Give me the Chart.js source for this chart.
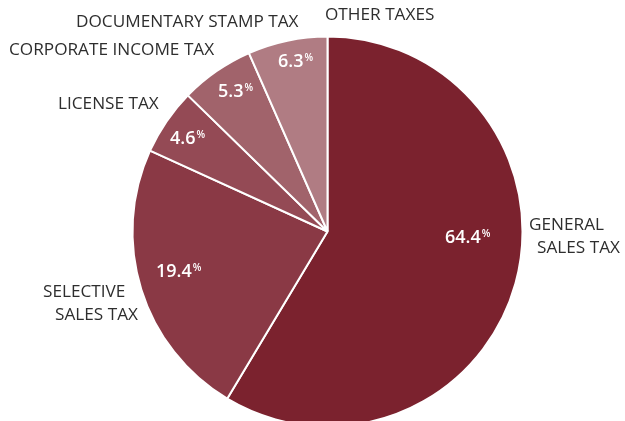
<!DOCTYPE html>
<html>
<head>
<meta charset="utf-8">
<script src="https://cdn.jsdelivr.net/npm/chart.js@4"></script>
<style>
  html, body { margin: 0; padding: 0; background: #fff; }
  #taxPie { display: block; }
</style>
</head>
<body>
<canvas id="taxPie" width="625" height="421"></canvas>
<script>
const categories = ['GENERAL SALES TAX', 'SELECTIVE SALES TAX', 'LICENSE TAX',
  'CORPORATE INCOME TAX', 'DOCUMENTARY STAMP TAX', 'OTHER TAXES'];
const sliceSizes = [58.6, 23.2, 5.5, 6.1, 0, 6.6];
const printedPct = [64.4, 19.4, 4.6, 5.3, null, 6.3];
const sliceColors = ['#7b222e', '#8a3945', '#944a55', '#a1636b', '#a1636b', '#b07c83'];

// where the text goes (pixels), per category
const nameLayout = [
  { lines: ['GENERAL', 'SALES TAX'], x: [529, 537], y: [225, 248] },
  { lines: ['SELECTIVE', 'SALES TAX'], x: [43, 55], y: [292, 315] },
  { lines: ['LICENSE TAX'], x: [58], y: [104] },
  { lines: ['CORPORATE INCOME TAX'], x: [9], y: [50] },
  { lines: ['DOCUMENTARY STAMP TAX'], x: [76], y: [22] },
  { lines: ['OTHER TAXES'], x: [325], y: [15] }
];
const pctLayout = [
  { x: 445, y: 238 }, { x: 156, y: 272 }, { x: 170, y: 139 },
  { x: 218, y: 92 }, null, { x: 278, y: 62 }
];

const labelPlugin = {
  id: 'taxLabels',
  afterDatasetsDraw(chart) {
    const ctx = chart.ctx;
    ctx.save();
    ctx.textBaseline = 'middle';
    ctx.textAlign = 'left';

    // category names outside the pie
    ctx.fillStyle = '#2e2e2e';
    ctx.font = "17.2px 'Open Sans'";
    nameLayout.forEach(n => {
      n.lines.forEach((t, i) => ctx.fillText(t, n.x[i], n.y[i]));
    });

    // percentages inside
    ctx.fillStyle = '#ffffff';
    printedPct.forEach((v, i) => {
      const p = pctLayout[i];
      if (!p || v == null) return;
      const txt = v.toFixed(1);
      ctx.font = "600 18px 'Open Sans'";
      ctx.fillText(txt, p.x, p.y);
      const w = ctx.measureText(txt).width;
      ctx.font = "600 10px 'Open Sans'";
      ctx.fillText('%', p.x + w + 1, p.y - 4);
    });
    ctx.restore();
  }
};

new Chart(document.getElementById('taxPie').getContext('2d'), {
  type: 'pie',
  data: {
    labels: categories,
    datasets: [{
      data: sliceSizes,
      backgroundColor: sliceColors,
      borderColor: '#ffffff',
      borderWidth: 2,
      radius: 195
    }]
  },
  options: {
    responsive: false,
    animation: false,
    events: [],
    layout: { padding: { left: 30, top: 42, right: 0, bottom: 0 } },
    plugins: {
      legend: { display: false },
      tooltip: { enabled: false }
    }
  },
  plugins: [labelPlugin]
});
</script>
</body>
</html>
